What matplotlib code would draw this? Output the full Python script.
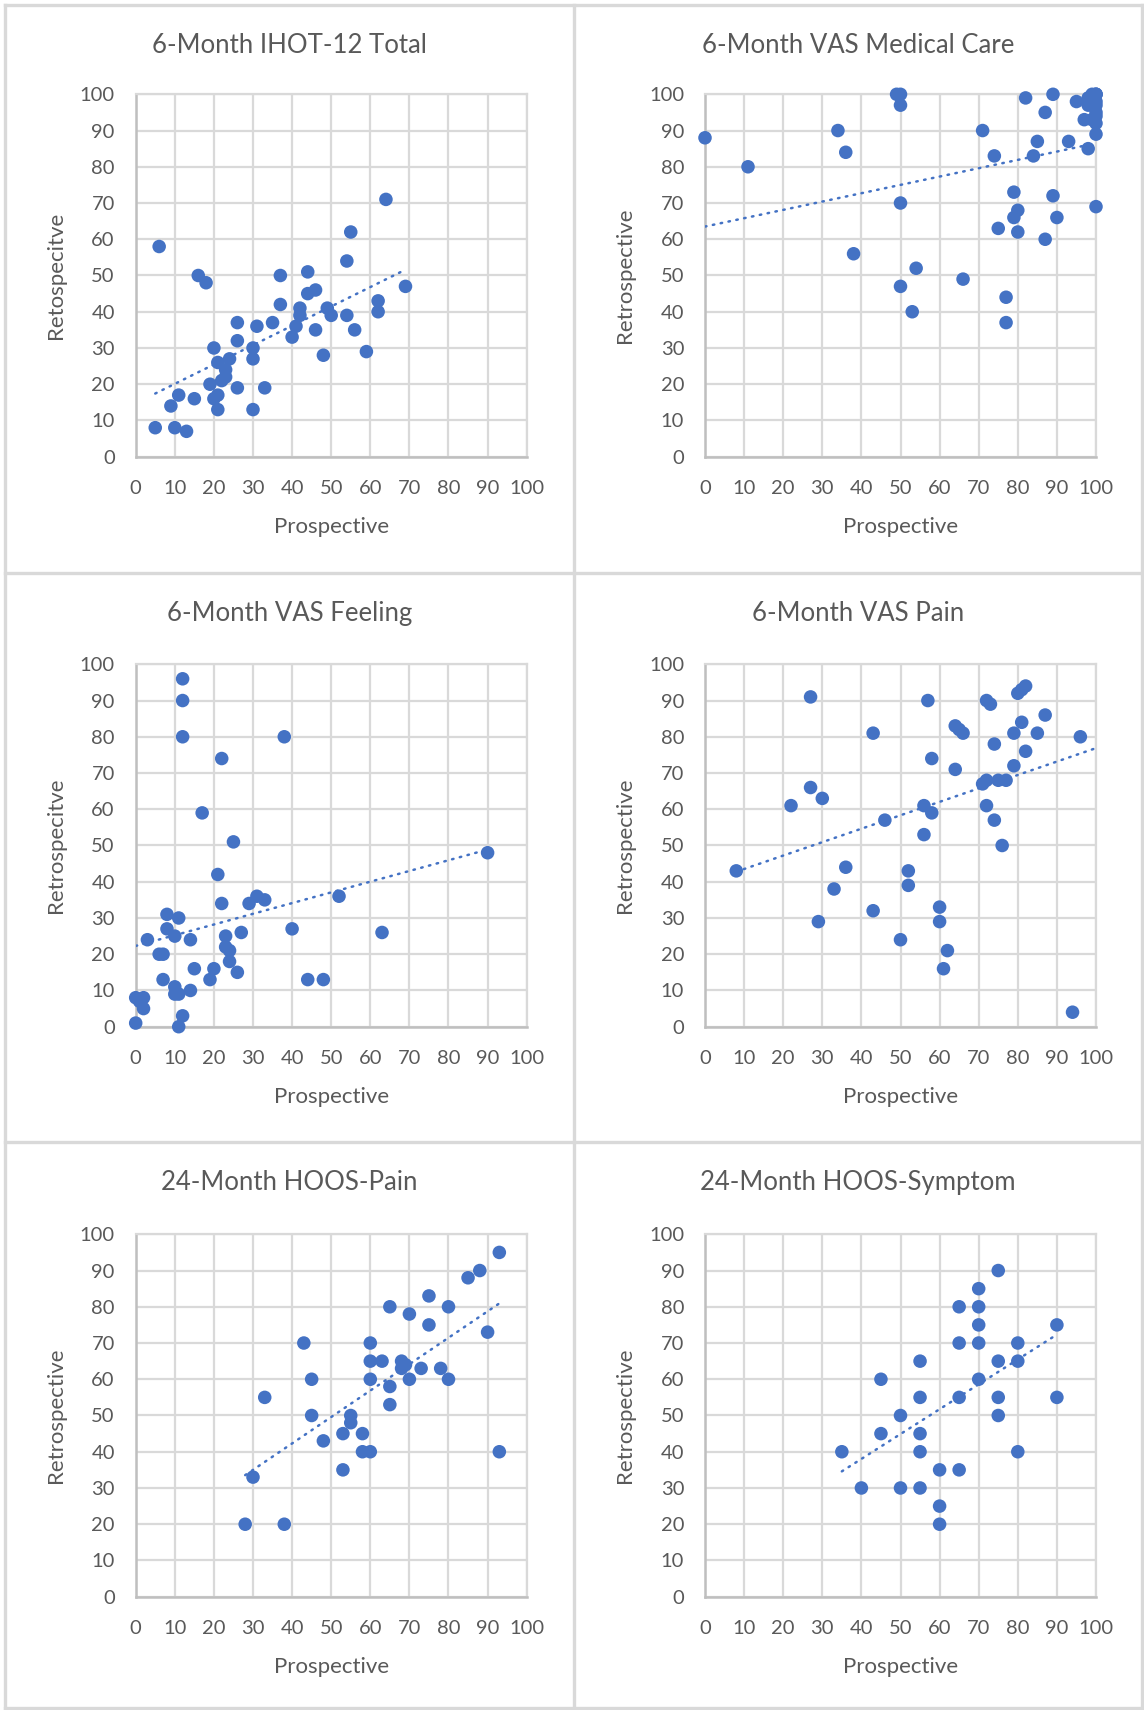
import matplotlib
matplotlib.use("Agg")
import matplotlib.pyplot as plt
from matplotlib.lines import Line2D
import numpy as np

plt.rcParams['font.family'] = ['Lato', 'DejaVu Sans']

W, H = 1144, 1710
BLUE = '#4472C4'
TXT = '#595959'
GRID = '#d9d9d9'

# 6-month IHOT-12 total
ihot_x = [6, 64, 55, 54, 16, 18, 37, 44, 69, 44, 46, 37, 62, 42, 49, 42, 50, 54, 62, 26,
          31, 35, 41, 40, 46, 56, 48, 59, 26, 20, 30, 30, 24, 21, 23, 23, 22, 19, 26, 33,
          11, 15, 20, 21, 9, 21, 30, 5, 10, 13]
ihot_y = [58, 71, 62, 54, 50, 48, 50, 51, 47, 45, 46, 42, 43, 41, 41, 39, 39, 39, 40, 37,
          36, 37, 36, 33, 35, 35, 28, 29, 32, 30, 30, 27, 27, 26, 24, 22, 21, 20, 19, 19,
          17, 16, 16, 17, 14, 13, 13, 8, 8, 7]

# 6-month VAS medical care
care_x = [0, 11, 34, 36, 49, 50, 50, 50, 38, 54, 50, 53, 66, 71, 74, 79, 80, 79, 75, 80,
          77, 77, 82, 89, 87, 85, 84, 89, 90, 87, 95, 93, 97, 98, 98, 99, 100, 100, 100,
          100, 100, 100, 99, 100, 100, 99, 100, 98, 100]
care_y = [88, 80, 90, 84, 100, 100, 97, 70, 56, 52, 47, 40, 49, 90, 83, 73, 68, 66, 63, 62,
          44, 37, 99, 100, 95, 87, 83, 72, 66, 60, 98, 87, 93, 85, 99, 100, 100, 98, 95,
          92, 89, 69, 93, 100, 100, 99, 97, 97, 94]

# 6-month VAS feeling
feel_x = [0, 0, 1, 2, 2, 3, 6, 7, 7, 8, 8, 10, 11, 10, 10, 11, 12, 11, 12, 12, 12, 14, 14,
          15, 17, 19, 20, 21, 22, 22, 23, 23, 24, 24, 25, 26, 27, 29, 31, 33, 38, 40, 44,
          48, 52, 63, 90]
feel_y = [1, 8, 7, 8, 5, 24, 20, 20, 13, 31, 27, 25, 30, 11, 9, 9, 3, 0, 96, 90, 80, 24, 10,
          16, 59, 13, 16, 42, 74, 34, 25, 22, 21, 18, 51, 15, 26, 34, 36, 35, 80, 27, 13,
          13, 36, 26, 48]

# 6-month VAS pain
pain_x = [8, 22, 27, 27, 30, 29, 33, 36, 43, 43, 46, 50, 52, 52, 56, 56, 57, 58, 58, 60,
          60, 62, 61, 64, 65, 66, 64, 72, 73, 74, 71, 72, 75, 77, 72, 74, 76, 79, 79, 80,
          81, 82, 81, 82, 85, 87, 96, 94]
pain_y = [43, 61, 91, 66, 63, 29, 38, 44, 81, 32, 57, 24, 43, 39, 61, 53, 90, 74, 59, 33,
          29, 21, 16, 83, 82, 81, 71, 90, 89, 78, 67, 68, 68, 68, 61, 57, 50, 81, 72, 92,
          93, 94, 84, 76, 81, 86, 80, 4]

# 24-month HOOS pain
hpain_x = [28, 38, 30, 33, 43, 45, 45, 48, 53, 53, 55, 55, 58, 58, 60, 60, 60, 60, 63, 65,
           65, 65, 68, 68, 69, 70, 70, 73, 75, 75, 78, 80, 80, 85, 88, 90, 93, 93]
hpain_y = [20, 20, 33, 55, 70, 60, 50, 43, 45, 35, 50, 48, 45, 40, 40, 70, 65, 60, 65, 80,
           58, 53, 65, 63, 64, 60, 78, 63, 83, 75, 63, 80, 60, 88, 90, 73, 95, 40]

# 24-month HOOS symptom
hsym_x = [35, 40, 45, 45, 50, 50, 55, 55, 55, 55, 55, 60, 60, 60, 65, 65, 65, 65, 70, 70,
          70, 70, 70, 75, 75, 75, 75, 80, 80, 80, 90, 90]
hsym_y = [40, 30, 60, 45, 50, 30, 65, 55, 45, 40, 30, 35, 25, 20, 80, 70, 55, 35, 85, 80,
          75, 70, 60, 90, 65, 55, 50, 70, 65, 40, 75, 55]

# title, y label, x data, y data, trendline forward extension
panels = [
    ('6-Month IHOT-12 Total', 'Retospecitve', ihot_x, ihot_y, 0),
    ('6-Month VAS Medical Care', 'Retrospective', care_x, care_y, 0),
    ('6-Month VAS Feeling', 'Retrospecitve', feel_x, feel_y, 0),
    ('6-Month VAS Pain', 'Retrospective', pain_x, pain_y, 4),
    ('24-Month HOOS-Pain', 'Retrospective', hpain_x, hpain_y, 0),
    ('24-Month HOOS-Symptom', 'Retrospective', hsym_x, hsym_y, 0),
]

fig = plt.figure(figsize=(W / 100, H / 100), dpi=100)
fig.patch.set_facecolor('white')

col_left = [135.7, 705.0]
row_top = [94.3, 664.3, 1234.3]
ax_w, ax_h = 391.0, 362.4
box_x = [5, 574, 1142]
box_y = [5, 573, 1142, 1708]

for i, (title, ylab, xs, ys, fwd) in enumerate(panels):
    r, c = divmod(i, 2)
    l = col_left[c]
    t = row_top[r]
    ax = fig.add_axes([l / W, 1 - (t + ax_h) / H, ax_w / W, ax_h / H])
    ax.set_xlim(0, 100)
    ax.set_ylim(0, 100)
    ax.set_xticks(range(0, 101, 10))
    ax.set_yticks(range(0, 101, 10))
    ax.grid(True, color=GRID, lw=1.6, zorder=0)
    ax.set_axisbelow(True)
    for s in ['top', 'right']:
        ax.spines[s].set_color(GRID)
        ax.spines[s].set_linewidth(1.6)
    for s in ['left', 'bottom']:
        ax.spines[s].set_color('#bfbfbf')
        ax.spines[s].set_linewidth(1.8)
    ax.tick_params(length=0, labelsize=14.5, labelcolor=TXT)
    ax.tick_params(axis='y', pad=15)
    ax.tick_params(axis='x', pad=17)

    ax.scatter(xs, ys, s=95, color=BLUE, edgecolors='none', zorder=3, clip_on=False)

    # linear trendline across the data range
    k, b0 = np.polyfit(xs, ys, 1)
    tx = np.array([min(xs), max(xs) + fwd])
    ax.plot(tx, k * tx + b0, color=BLUE, lw=1.8, linestyle=(0, (0.6, 2.6)),
            dash_capstyle='round', zorder=4)

    ax.set_xlabel('Prospective', fontsize=16, color=TXT, labelpad=14)
    ax.set_ylabel(ylab, fontsize=16, color=TXT, labelpad=10)

    # chart title centred on its box
    cx = (box_x[c] + box_x[c + 1]) / 2
    cy = box_y[r] + 40.5
    fig.text(cx / W, 1 - cy / H, title, fontsize=18.5, color=TXT,
             ha='center', va='center')

# chart borders
for x in box_x:
    fig.add_artist(Line2D([x / W, x / W], [1 - 5 / H, 1 - 1708 / H], color=GRID, lw=2.4))
for y in box_y:
    fig.add_artist(Line2D([5 / W, 1142 / W], [1 - y / H, 1 - y / H], color=GRID, lw=2.4))

fig.savefig('out.png', dpi=100, facecolor='white')
